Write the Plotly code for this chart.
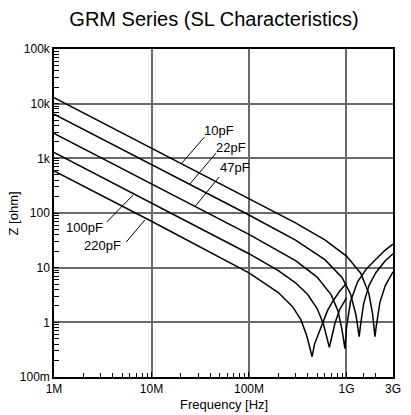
import plotly.graph_objects as go

# ---------------- data ----------------
series_names = ["10pF", "22pF", "47pF", "100pF", "220pF"]

freq_10pF = [1e6, 1e7, 1e8, 3e8, 6e8, 1.0e9, 1.4e9, 1.7e9, 1.85e9, 1.92e9, 1.96e9, 2.02e9, 2.2e9, 2.5e9, 2.75e9, 3.0e9]
z_10pF    = [12900, 1551, 185.8, 66.0, 32.2, 16.3, 7.9, 3.33, 1.45, 0.71, 0.546, 0.85, 2.3, 4.7, 6.6, 8.4]

freq_22pF = [1e6, 1e7, 1e8, 3e8, 6e8, 9e8, 1.1e9, 1.25e9, 1.31e9, 1.35e9, 1.4e9, 1.5e9, 1.7e9, 2.0e9, 2.5e9, 3.0e9]
z_22pF    = [6400, 769, 91.9, 31.8, 14.0, 6.63, 3.3, 1.38, 0.74, 0.546, 0.95, 2.2, 4.7, 8.1, 13.4, 18.0]

freq_47pF = [1e6, 1e7, 1e8, 3e8, 5e8, 7e8, 8.2e8, 9.0e8, 9.4e8, 9.64e8, 1.0e9, 1.1e9, 1.3e9, 1.6e9, 2.0e9, 2.5e9, 3.0e9]
z_47pF    = [2850, 342.6, 40.7, 13.4, 6.72, 3.15, 1.6, 0.73, 0.41, 0.33, 0.8, 2.4, 5.5, 9.5, 14.3, 21.0, 27.0]

freq_100pF = [1e6, 1e7, 1e8, 2e8, 3e8, 4e8, 5e8, 5.8e8, 6.3e8, 6.67e8, 7.0e8, 7.6e8, 8.5e8, 1.0e9]
z_100pF    = [1280, 153.9, 18.0, 8.81, 5.28, 3.23, 1.79, 0.93, 0.49, 0.349, 0.5, 0.95, 1.7, 2.8]

freq_220pF = [1e6, 1e7, 1e8, 2e8, 2.8e8, 3.4e8, 3.9e8, 4.2e8, 4.44e8, 4.7e8, 5.2e8, 5.7e8, 6.4e8, 7.14e8, 8.5e8, 1.0e9]
z_220pF    = [587, 70.6, 8.0, 3.51, 1.93, 1.12, 0.58, 0.34, 0.235, 0.4, 0.65, 0.98, 1.65, 2.35, 3.7, 5.2]

x_tick_vals = [1e6, 1e7, 1e8, 1e9, 3e9]
x_tick_text = ["1M", "10M", "100M", "1G", "3G"]
y_tick_vals = [0.1, 1, 10, 100, 1e3, 1e4, 1e5]
y_tick_text = ["100m", "1", "10", "100", "1k", "10k", "100k"]
x_minor_vals = [m * d for d in (1e6, 1e7, 1e8) for m in range(2, 10)] + [1.5e9, 2e9]
y_minor_vals = [m * d for d in (0.1, 1, 10, 100, 1e3, 1e4) for m in range(2, 10)]

title_text = "GRM Series (SL Characteristics)"
x_title = "Frequency [Hz]"
y_title = "Z [ohm]"

# label text positions and leader lines (paper coordinates of the plot area)
label_pos = {
    "10pF":  (0.487, 0.753, (0.4438, 0.7317), (0.3775, 0.6524)),
    "22pF":  (0.5216, 0.7012, (0.4784, 0.6829), (0.4006, 0.5884)),
    "47pF":  (0.5331, 0.6372, (0.487, 0.6098), (0.415, 0.5183)),
    "100pF": (0.0893, 0.4573, (0.1556, 0.4726), (0.2334, 0.5549)),
    "220pF": (0.1441, 0.4024, (0.2133, 0.4116), (0.268, 0.4787)),
}

FONT = "Liberation Sans, Arial, sans-serif"

fig = go.Figure()
for name, fx, zy in [("10pF", freq_10pF, z_10pF), ("22pF", freq_22pF, z_22pF),
                     ("47pF", freq_47pF, z_47pF), ("100pF", freq_100pF, z_100pF),
                     ("220pF", freq_220pF, z_220pF)]:
    fig.add_trace(go.Scatter(x=fx, y=zy, mode="lines", name=name,
                             line=dict(color="black", width=1.5), showlegend=False))

axis_common = dict(
    type="log", showgrid=True, gridcolor="#6a6a6a", gridwidth=1.5,
    showline=True, linecolor="black", linewidth=1.5, mirror=True,
    ticks="inside", ticklen=5, tickcolor="black", zeroline=False,
    tickfont=dict(family=FONT, size=12, color="black"),
)

fig.update_layout(
    width=411, height=415,
    margin=dict(l=54, r=10, t=49, b=38),
    paper_bgcolor="white", plot_bgcolor="white",
    xaxis=dict(axis_common, range=[6, 9.4771], tickmode="array",
               tickvals=x_tick_vals, ticktext=x_tick_text,
               minor=dict(tickmode="array", tickvals=x_minor_vals, ticks="inside",
                          ticklen=4, tickcolor="black", showgrid=False)),
    yaxis=dict(axis_common, range=[-1, 5], tickmode="array",
               tickvals=y_tick_vals, ticktext=y_tick_text,
               minor=dict(tickmode="array", tickvals=y_minor_vals, ticks="inside",
                          ticklen=5, tickcolor="black", showgrid=False)),
    title=dict(text=title_text, x=0.5207, xref="container", xanchor="center",
               y=0.954, yref="container", yanchor="middle",
               font=dict(family=FONT, size=20, color="black")),
)

annotations = [
    dict(text=x_title, xref="paper", yref="paper", x=0.501, y=-0.0845,
         xanchor="center", yanchor="middle", showarrow=False,
         font=dict(family=FONT, size=13, color="black")),
    dict(text=y_title, xref="paper", yref="paper", x=-0.1196, y=0.5,
         xanchor="center", yanchor="middle", textangle=-90, showarrow=False,
         font=dict(family=FONT, size=13, color="black")),
]
shapes = []
for name, (tx, ty, p0, p1) in label_pos.items():
    annotations.append(dict(text=name, xref="paper", yref="paper", x=tx, y=ty,
                            xanchor="center", yanchor="middle", showarrow=False,
                            font=dict(family=FONT, size=13, color="black")))
    shapes.append(dict(type="line", xref="paper", yref="paper",
                       x0=p0[0], y0=p0[1], x1=p1[0], y1=p1[1],
                       line=dict(color="black", width=1)))
fig.update_layout(annotations=annotations, shapes=shapes)

fig.write_html("out.html", config={"displayModeBar": False},
               post_script="document.body.style.margin='0';document.body.style.padding='0';")
